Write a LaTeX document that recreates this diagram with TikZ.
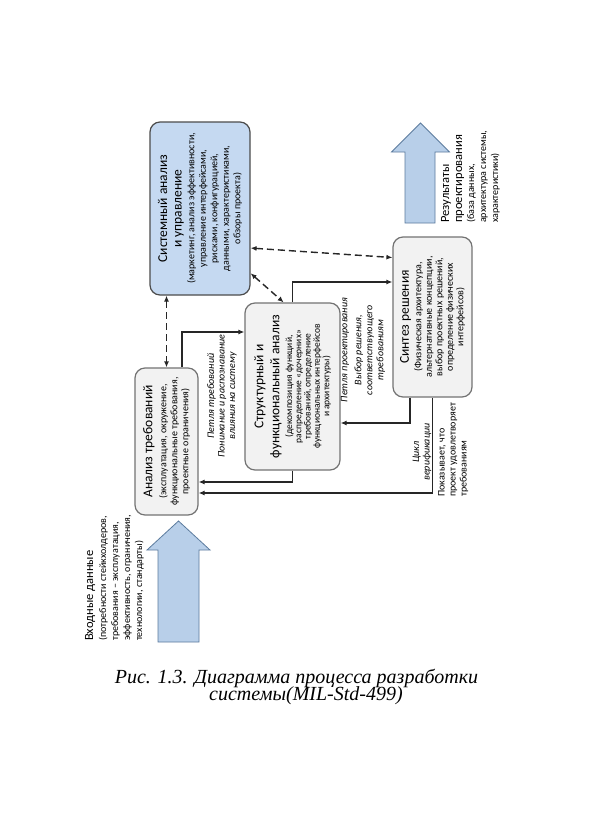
\documentclass[tikz,border=0pt]{standalone}
\usepackage{graphicx}
\usepackage{fontspec}
\setmainfont{Carlito}
\newfontfamily\capfont{Liberation Serif}
\usetikzlibrary{arrows.meta}
\definecolor{sysblue}{HTML}{C5D9F1}
\definecolor{boxgray}{HTML}{F2F2F2}
\definecolor{bigblue}{HTML}{B8CFE9}
\definecolor{bigedge}{HTML}{5B7B9E}
\newcommand{\ttl}{\fontsize{13.5}{14.5}\selectfont}
\newcommand{\sbt}{\fontsize{10}{11.5}\selectfont}
\newcommand{\turned}[2]{\rotatebox{90}{\parbox{#1}{\centering #2}}}
\newcommand{\turnedl}[2]{\rotatebox{90}{\parbox{#1}{\raggedright #2}}}
\tikzset{
  block/.style={draw=black!55, line width=1.2pt, rounded corners=10pt,
    fill=boxgray, inner sep=0pt},
  link/.style={line width=1.3pt, draw=black!85, -{Latex[length=6pt,width=5pt]}},
  dlink/.style={line width=1.4pt, draw=black!85, dash pattern=on 7pt off 4pt,
    {Latex[length=6pt,width=5pt]}-{Latex[length=6pt,width=5pt]}},
  lbl/.style={inner sep=0pt},
  bigarrow/.style={fill=bigblue, draw=bigedge, line width=0.8pt},
}
\begin{document}
\begin{tikzpicture}[x=1pt,y=-1pt]
  \fill[white] (0,0) rectangle (591,820);
  \useasboundingbox (0,0) rectangle (591,820);

  \node[block, fill=sysblue, draw=black!70, minimum width=100pt, minimum height=173pt] (sys) at (200,208.5)
    {\turned{168pt}{\ttl Системный анализ\\и управление\par\vspace{1.3pt}
     \sbt (маркетинг, анализ эффективности,\\управление интерфейсами,\\рисками, конфигурацией,\\данными, характеристиками,\\обзоры проекта)}};
  \node[block, minimum width=63pt, minimum height=147pt] (req) at (166.5,441.5)
    {\turned{142pt}{\ttl Анализ требований\par\vspace{3pt}
     \fontsize{10}{11}\selectfont (эксплуатация, окружение,\\функциональные требования,\\проектные ограничения)}};
  \node[block, minimum width=95pt, minimum height=167pt] (str) at (292.5,386.5)
    {\turned{160pt}{\fontsize{13.5}{16}\selectfont Структурный и\\функциональный анализ\par\vspace{3.5pt}
     \fontsize{9.5}{9.3}\selectfont (декомпозиция функций,\\распределение «дочерних»\\требований, определение\\функциональных интерфейсов\\и архитектуры)}};
  \node[block, minimum width=79pt, minimum height=160pt] (syn) at (432.5,317)
    {\turned{155pt}{\ttl Синтез решения\par\vspace{2pt}
     \fontsize{10}{10.5}\selectfont (Физическая архитектура,\\альтернативные концепции,\\выбор проектных решений,\\определение физических\\интерфейсов)}};

  \draw[dlink] (req.north |- sys.south) -- (req.north);
  \draw[dlink] (sys.-52) -- (str.96);
  \draw[dlink] (sys.-38) -- (syn.124);

  \draw[link] ([xshift=15.5pt]req.north) |- ([yshift=54.5pt]str.west);
  \draw[link] (str.north) |- ([yshift=35pt]syn.west);
  \draw[link] ([xshift=-22.5pt]syn.south) |- ([yshift=-36.5pt]str.east);
  \draw[link] (str.south) |- ([yshift=-40.5pt]req.east);
  \draw[link] (syn.south) |- ([yshift=-51.5pt]req.east);

  \node[lbl] (lreq) at (222,396)
    {\turned{140pt}{\fontsize{10}{10.5}\selectfont\itshape Петля требований\\Понимание и распознавание\\влияния на систему}};
  \node[lbl] (ldes) at (363,350)
    {\turned{140pt}{\fontsize{10}{11}\selectfont\itshape Петля проектирования\par\vspace{3pt}Выбор решения,\\соответствующего\\требованиям}};
  \node[lbl] (lver) at (422,452)
    {\turned{80pt}{\fontsize{10}{10.5}\selectfont\itshape Цикл\\верификации}};
  \node[lbl, anchor=south west] (lshow) at (438,497)
    {\turnedl{120pt}{\fontsize{10}{11}\selectfont Показывает, что\\проект удовлетворяет\\требованиям}};

  \draw[bigarrow] (158,642) -- (158,550) -- (147,550) -- (178.5,521) -- (210,550)
    -- (199,550) -- (199,642) -- cycle;
  \draw[bigarrow] (405,223) -- (405,152) -- (391.5,152) -- (420.5,123) -- (449.5,152)
    -- (435,152) -- (435,223) -- cycle;

  \node[lbl, anchor=south west] (intext) at (85,641)
    {\turnedl{160pt}{\fontsize{12.5}{14}\selectfont Входные данные\par\vspace{1pt}
     \fontsize{10}{12}\selectfont (потребности стейкхолдеров,\\требования -- эксплуатация,\\эффективность, ограничения,\\технологии, стандарты)}};
  \node[lbl, anchor=south west] (outtext) at (441,223)
    {\turnedl{130pt}{\fontsize{12.5}{13}\selectfont Результаты\\проектирования\par
     \fontsize{10}{12}\selectfont (база данных,\\архитектура системы,\\характеристики)}};

  \node[anchor=base, font=\capfont\itshape\fontsize{20}{17}\selectfont] (cap1) at (296.5,683)
    {Рис. 1.3. Диаграмма процесса разработки};
  \node[anchor=base, font=\capfont\itshape\fontsize{20}{17}\selectfont] (cap2) at (306,700)
    {системы(MIL-Std-499)};
\end{tikzpicture}
\end{document}
